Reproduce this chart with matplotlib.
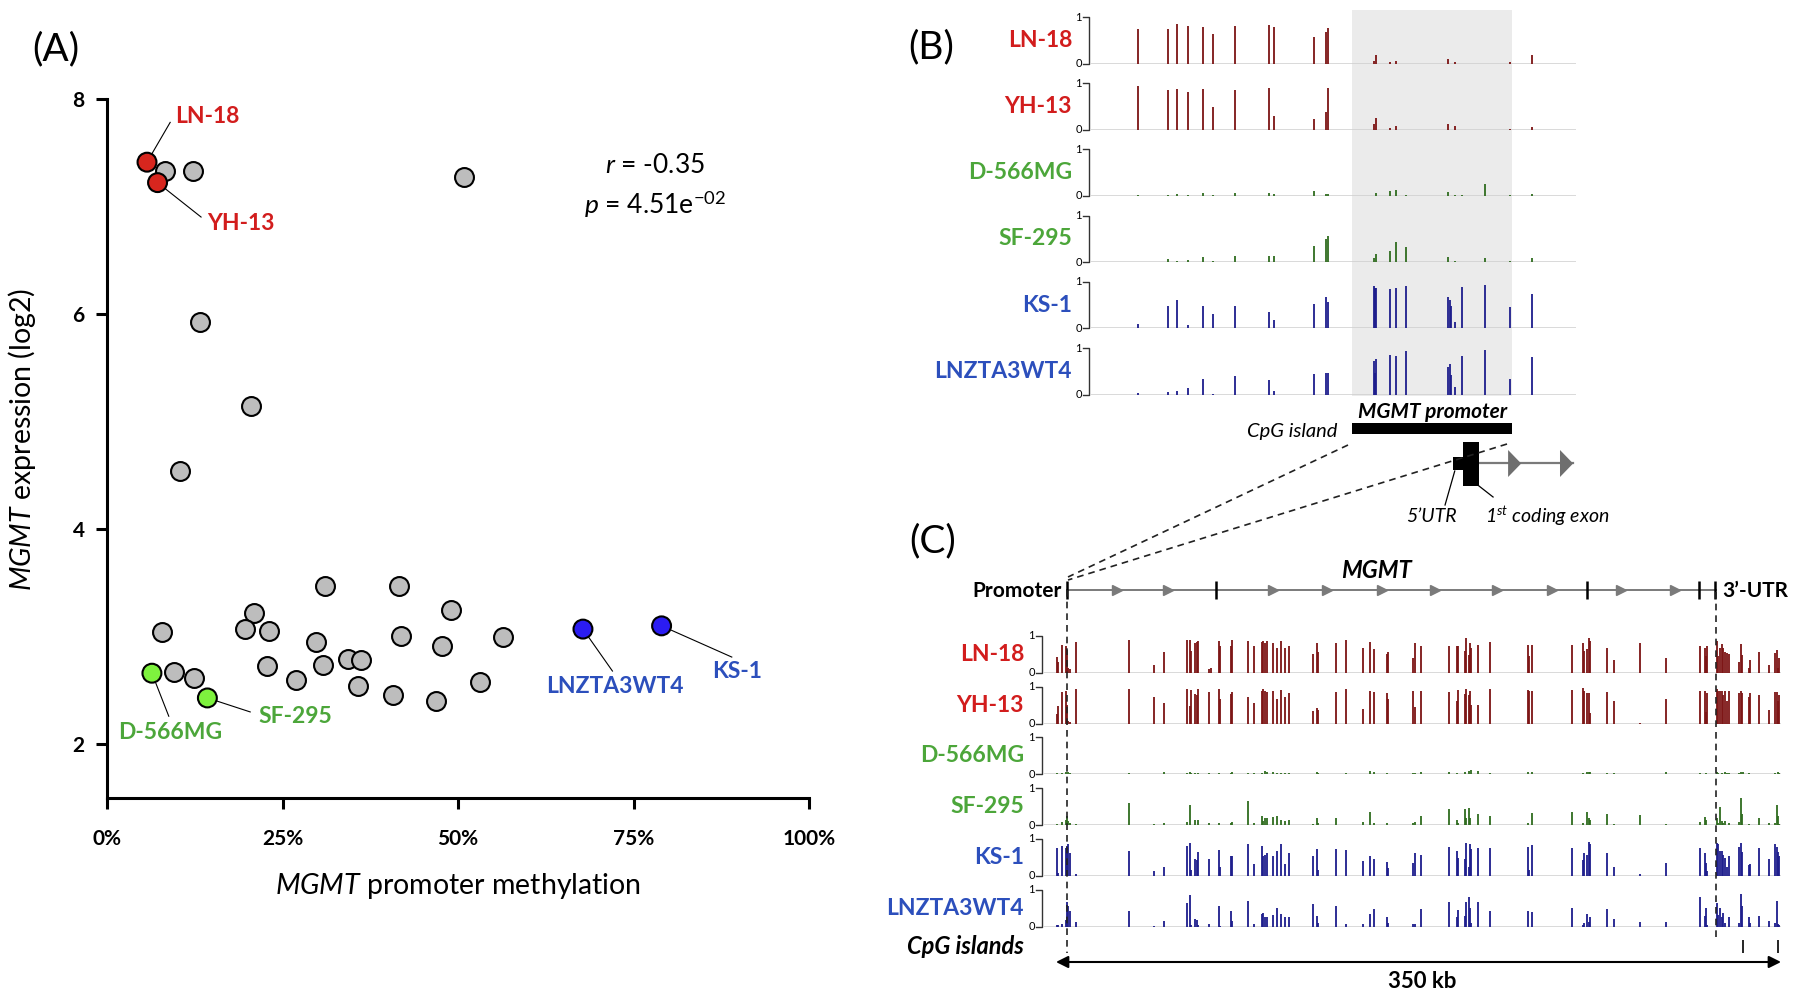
# -*- coding: utf-8 -*-
"""
MGMT: (A) expression vs promoter methylation, (B) promoter CpG tracks, (C) whole-gene CpG tracks
"""
import matplotlib
matplotlib.use('Agg')
import matplotlib.pyplot as plt
from matplotlib.patches import Rectangle, Polygon

plt.rcParams['font.family'] = ['Lato', 'DejaVu Sans']
plt.rcParams['mathtext.fontset'] = 'custom'
plt.rcParams['mathtext.rm'] = 'Lato'
plt.rcParams['mathtext.it'] = 'Lato:italic'
plt.rcParams['mathtext.bf'] = 'Lato:bold'

W, H = 1800, 998

# ── (A) 数据 ──
gray_meth = [8.2, 12.3, 50.8, 13.3, 20.5, 10.4, 31.0, 41.6, 21.0, 49.0, 7.8, 19.6, 23.1, 29.8,
             41.9, 47.7, 56.4, 22.8, 30.7, 34.3, 36.2, 26.9, 35.7, 40.7, 46.9, 53.1, 9.6, 12.4]
gray_expr = [7.33, 7.33, 7.27, 5.92, 5.14, 4.54, 3.47, 3.47, 3.22, 3.25, 3.04, 3.07, 3.05, 2.95,
             3.01, 2.91, 3.00, 2.73, 2.74, 2.79, 2.78, 2.60, 2.54, 2.46, 2.40, 2.58, 2.67, 2.62]

lines = ['LN-18', 'YH-13', 'D-566MG', 'SF-295', 'KS-1', 'LNZTA3WT4']
line_meth = [5.7, 7.2, 6.4, 14.3, 79.0, 67.8]
line_expr = [7.41, 7.22, 2.66, 2.43, 3.10, 3.07]

r_val = -0.35
p_txt = '4.51e'
p_exp = '-02'

# ── (B) 启动子区 CpG 甲基化 (窗口内相对位置 0-1000) ──
b_pos = [96.7, 158.3, 177.3, 201.0, 230.3, 252.1, 296.7, 367.8, 377.3, 460.7, 485.3, 489.1, 583.9,
         585.8, 588.6, 616.1, 628.4, 649.3, 736.5, 739.3, 742.2, 749.8, 765.9, 812.3, 864.5, 910.0]
b_ln18 = [0.75, 0.74, 0.84, 0.80, 0.79, 0.63, 0.80, 0.82, 0.79, 0.56, 0.68, 0.77, 0.06, 0.00, 0.18,
          0.03, 0.05, 0.00, 0.09, 0.00, 0.00, 0.03, 0.00, 0.00, 0.03, 0.18]
b_yh13 = [0.94, 0.86, 0.87, 0.81, 0.87, 0.48, 0.86, 0.89, 0.29, 0.23, 0.38, 0.89, 0.12, 0.00, 0.26,
          0.04, 0.09, 0.00, 0.13, 0.00, 0.00, 0.09, 0.00, 0.00, 0.02, 0.06]
b_d566 = [0.02, 0.03, 0.05, 0.03, 0.06, 0.02, 0.06, 0.06, 0.05, 0.10, 0.05, 0.05, 0.00, 0.00, 0.07,
          0.11, 0.12, 0.03, 0.08, 0.00, 0.00, 0.03, 0.01, 0.26, 0.03, 0.04]
b_sf295 = [0.01, 0.06, 0.02, 0.05, 0.11, 0.03, 0.14, 0.14, 0.14, 0.35, 0.50, 0.57, 0.08, 0.00, 0.17,
           0.24, 0.44, 0.32, 0.10, 0.00, 0.00, 0.03, 0.01, 0.08, 0.02, 0.08]
b_ks1 = [0.10, 0.47, 0.61, 0.08, 0.47, 0.31, 0.49, 0.35, 0.17, 0.52, 0.68, 0.56, 0.92, 0.87, 0.86,
         0.85, 0.87, 0.92, 0.68, 0.61, 0.47, 0.14, 0.89, 0.94, 0.45, 0.73]
b_lnz = [0.03, 0.05, 0.08, 0.14, 0.33, 0.02, 0.39, 0.31, 0.08, 0.44, 0.47, 0.47, 0.72, 0.47, 0.77,
         0.85, 0.82, 0.93, 0.59, 0.65, 0.42, 0.17, 0.82, 0.95, 0.33, 0.81]
b_island = [538, 869]          # CpG island / MGMT promoter
b_utr5 = [746, 767]
b_exon1 = [767, 800]
b_intron = [800, 994]
b_arrows = [874, 981]

# ── (C) 全基因 CpG 甲基化 (kb) ──
c_pos = [0.3, 1.0, 2.8, 4.8, 5.2, 6.0, 6.8, 9.7, 35.4, 47.5, 52.1, 63.1, 64.7, 65.2, 67.1, 67.9,
         68.6, 74.0, 74.7, 78.6, 79.1, 84.5, 85.2, 92.9, 95.5, 99.5, 100.1, 101.1, 102.1, 104.6,
         106.7, 108.5, 110.7, 112.3,
         123.9, 126.1, 126.5, 135.2, 139.9, 148.1, 151.7, 153.4, 159.6, 160.1, 172.2, 173.2, 176.2,
         189.7, 193.7, 194.2, 197.4, 197.8, 199.4, 199.9, 200.2, 203.6, 209.5, 227.7, 228.5, 229.8,
         249.3, 254.3, 254.9, 256.2, 257.2, 257.8, 266.1, 269.4, 281.9, 294.5, 310.9, 313.2, 313.8,
         314.3, 319.0, 319.7, 320.6, 321.4, 322.1, 323.0, 323.8, 324.8, 329.7, 330.5, 331.3, 331.8,
         334.6, 335.0, 339.2, 344.4, 347.0, 347.9, 348.7, 349.2]
c_ln18 = [0.42, 0.28, 0.74, 0.71, 0.62, 0.12, 0.10, 0.83, 0.89, 0.21, 0.55, 0.89, 0.89, 0.59, 0.80,
          0.83, 0.86, 0.10, 0.12, 0.86, 0.73, 0.71, 0.89, 0.87, 0.73, 0.83, 0.85, 0.80, 0.85, 0.80,
          0.66, 0.86, 0.66, 0.71,
          0.50, 0.80, 0.57, 0.80, 0.89, 0.68, 0.82, 0.65, 0.50, 0.57, 0.39, 0.80, 0.73, 0.73, 0.71,
          0.73, 0.59, 0.94, 0.48, 0.80, 0.68, 0.75, 0.82, 0.75, 0.44, 0.75,
          0.74, 0.80, 0.59, 0.65, 0.94, 0.86, 0.68, 0.35, 0.80, 0.39, 0.71, 0.66, 0.44, 0.73, 0.87,
          0.44, 0.66, 0.77, 0.68, 0.55, 0.53, 0.50, 0.28, 0.77, 0.48, 0.00, 0.14, 0.35, 0.55, 0.21,
          0.53, 0.62, 0.12, 0.39]
c_yh13 = [0.25, 0.46, 0.85, 0.87, 0.51, 0.07, 0.05, 0.92, 0.92, 0.72, 0.55, 0.92, 0.46, 0.90, 0.80,
          0.78, 0.92, 0.85, 0.00, 0.92, 0.65, 0.80, 0.85, 0.72, 0.55, 0.89, 0.92, 0.87, 0.85, 0.89,
          0.65, 0.90, 0.71, 0.83,
          0.35, 0.42, 0.37, 0.85, 0.94, 0.39, 0.87, 0.85, 0.83, 0.65, 0.89, 0.44, 0.87, 0.85, 0.60,
          0.90, 0.80, 0.92, 0.78, 0.87, 0.51, 0.51, 0.94, 0.90, 0.87, 0.87,
          0.90, 0.95, 0.87, 0.83, 0.83, 0.28, 0.85, 0.60, 0.01, 0.65, 0.87, 0.87, 0.31, 0.83, 0.92,
          0.89, 0.89, 0.89, 0.78, 0.87, 0.60, 0.87, 0.83, 0.87, 0.83, 0.00, 0.71, 0.83, 0.78, 0.37,
          0.85, 0.85, 0.60, 0.78]
c_d566 = [0.04, 0.02, 0.03, 0.06, 0.00, 0.05, 0.03, 0.01, 0.03, 0.02, 0.05, 0.03, 0.06, 0.03, 0.04,
          0.00, 0.04, 0.04, 0.00, 0.03, 0.00, 0.04, 0.05, 0.04, 0.03, 0.04, 0.00, 0.10, 0.07, 0.05,
          0.04, 0.04, 0.04, 0.03,
          0.02, 0.05, 0.03, 0.02, 0.04, 0.02, 0.10, 0.06, 0.04, 0.00, 0.04, 0.03, 0.06, 0.05, 0.03,
          0.00, 0.06, 0.00, 0.10, 0.00, 0.12, 0.08, 0.03, 0.05, 0.00, 0.05,
          0.02, 0.03, 0.00, 0.05, 0.07, 0.07, 0.03, 0.03, 0.02, 0.05, 0.03, 0.00, 0.03, 0.00, 0.05,
          0.04, 0.00, 0.04, 0.00, 0.05, 0.04, 0.03, 0.04, 0.06, 0.00, 0.05, 0.03, 0.00, 0.02, 0.02,
          0.04, 0.00, 0.06, 0.03]
c_sf295 = [0.03, 0.00, 0.08, 0.15, 0.25, 0.12, 0.05, 0.03, 0.61, 0.02, 0.06, 0.08, 0.55, 0.00, 0.15,
           0.00, 0.15, 0.07, 0.00, 0.07, 0.00, 0.06, 0.08, 0.64, 0.05, 0.25, 0.12, 0.18, 0.20, 0.23,
           0.25, 0.15, 0.10, 0.15,
           0.02, 0.18, 0.06, 0.18, 0.01, 0.08, 0.35, 0.05, 0.06, 0.00, 0.06, 0.08, 0.25, 0.43, 0.15,
           0.07, 0.43, 0.18, 0.45, 0.20, 0.00, 0.29, 0.25, 0.06, 0.00, 0.32,
           0.36, 0.05, 0.00, 0.36, 0.20, 0.14, 0.29, 0.03, 0.27, 0.04, 0.08, 0.23, 0.13, 0.00, 0.18,
           0.06, 0.50, 0.10, 0.07, 0.10, 0.00, 0.07, 0.08, 0.73, 0.29, 0.00, 0.02, 0.00, 0.18, 0.05,
           0.06, 0.55, 0.25, 0.04]
c_ks1 = [0.75, 0.07, 0.82, 0.75, 0.80, 0.85, 0.62, 0.05, 0.66, 0.12, 0.25, 0.80, 0.89, 0.16, 0.45,
         0.44, 0.64, 0.45, 0.00, 0.69, 0.25, 0.53, 0.55, 0.85, 0.32, 0.80, 0.53, 0.57, 0.62, 0.55,
         0.68, 0.85, 0.33, 0.62,
         0.55, 0.73, 0.16, 0.73, 0.71, 0.41, 0.53, 0.45, 0.37, 0.21, 0.35, 0.62, 0.57, 0.77, 0.66,
         0.48, 0.46, 0.89, 0.23, 0.85, 0.74, 0.75, 0.75, 0.77, 0.16, 0.83,
         0.75, 0.44, 0.62, 0.57, 0.92, 0.87, 0.62, 0.25, 0.05, 0.35, 0.75, 0.62, 0.35, 0.12, 0.89,
         0.85, 0.66, 0.68, 0.57, 0.48, 0.25, 0.53, 0.77, 0.89, 0.64, 0.00, 0.30, 0.32, 0.75, 0.46,
         0.86, 0.77, 0.64, 0.53]
c_lnz = [0.05, 0.05, 0.06, 0.18, 0.68, 0.56, 0.43, 0.14, 0.43, 0.03, 0.15, 0.65, 0.86, 0.05, 0.20,
         0.18, 0.05, 0.08, 0.00, 0.55, 0.02, 0.43, 0.15, 0.70, 0.06, 0.34, 0.36, 0.27, 0.27, 0.32,
         0.50, 0.34, 0.25, 0.25,
         0.61, 0.30, 0.11, 0.57, 0.06, 0.07, 0.35, 0.47, 0.25, 0.09, 0.07, 0.06, 0.47, 0.66, 0.25,
         0.44, 0.30, 0.66, 0.79, 0.50, 0.09, 0.66, 0.43, 0.43, 0.00, 0.39,
         0.50, 0.05, 0.11, 0.34, 0.14, 0.25, 0.47, 0.20, 0.12, 0.12, 0.79, 0.30, 0.50, 0.05, 0.64,
         0.32, 0.50, 0.27, 0.36, 0.09, 0.00, 0.25, 0.11, 0.88, 0.56, 0.00, 0.25, 0.11, 0.29, 0.15,
         0.09, 0.70, 0.06, 0.05]
c_gene = [5.3, 318.6]
c_exons = [5.3, 77.2, 256.3, 310.4, 318.1]
c_strand = [29.4, 54.1, 104.8, 130.8, 157.4, 183.0, 212.9, 239.4, 272.8, 298.8]
c_islands = [331.7, 348.6]
c_span = 350

b_vals = [b_ln18, b_yh13, b_d566, b_sf295, b_ks1, b_lnz]
c_vals = [c_ln18, c_yh13, c_d566, c_sf295, c_ks1, c_lnz]

# 配色
fill_col = ['#d7261e', '#d7261e', '#7ef23e', '#7ef23e', '#2b1cf2', '#2b1cf2']
text_col = ['#d21d1d', '#d21d1d', '#4ca63a', '#4ca63a', '#2c4fbc', '#2c4fbc']
bar_col = ['#7c1414', '#7c1414', '#2f6c1f', '#2f6c1f', '#1d1d8c', '#1d1d8c']
GRAY_LINE = '#cfcfcf'


def frac(x0, y0, x1, y1):
    return [x0 / W, 1 - y1 / H, (x1 - x0) / W, (y1 - y0) / H]


fig = plt.figure(figsize=(18, 9.98), dpi=100)

# ── (B) 背景: 启动子阴影 + 基因结构 ──
axb = fig.add_axes(frac(1091, 0, 1576, 540))
axb.set_xlim(0, 1000)
axb.set_ylim(540, 0)
axb.axis('off')
axb.add_patch(Rectangle((b_island[0], 10), b_island[1] - b_island[0], 386,
                        facecolor='#ebebeb', edgecolor='none', zorder=0))
axb.add_patch(Rectangle((b_island[0], 423), b_island[1] - b_island[0], 11,
                        facecolor='black', edgecolor='none'))
axb.text(sum(b_island) / 2, 412, 'MGMT promoter', ha='center', va='center', fontsize=15,
         fontweight='bold', fontstyle='italic')
axb.text(b_island[0] - 30, 432, 'CpG island', ha='right', va='center', fontsize=14.5,
         fontstyle='italic')
axb.plot(b_intron, [463, 463], color='#7a7a7a', lw=1.6, zorder=1)
for xa in b_arrows:
    axb.add_patch(Polygon([[xa - 14, 450], [xa - 14, 477], [xa + 13, 463.5]], closed=True,
                          facecolor='#6f6f6f', edgecolor='none', zorder=2))
axb.add_patch(Rectangle((b_utr5[0], 457), b_utr5[1] - b_utr5[0], 13, facecolor='black', zorder=3))
axb.add_patch(Rectangle((b_exon1[0], 442), b_exon1[1] - b_exon1[0], 44, facecolor='black', zorder=3))
axb.plot([730, 750], [505, 471], color='black', lw=0.9)
axb.plot([829, 800], [497, 486], color='black', lw=0.9)
axb.text(703, 516, '5\u2019UTR', ha='center', va='center', fontsize=14, fontstyle='italic')
axb.text(813, 516, '1$^{st}$ coding exon', ha='left', va='center', fontsize=14, fontstyle='italic')


def track(x0, x1, ytop, ybase, xlim, pos, vals, bcol, name, ncol, gap):
    ax = fig.add_axes(frac(x0, ytop, x1, ybase))
    ax.set_xlim(*xlim)
    ax.set_ylim(0, 1)
    ax.axis('off')
    ax.axhline(0, color=GRAY_LINE, lw=1.8, zorder=1)
    ax.vlines(pos, 0, vals, color=bcol, lw=1.3, zorder=2)
    w = x1 - x0
    bx, tk = -2.5 / w, -8.0 / w
    ax.plot([tk, bx, bx, tk], [1, 1, 0, 0], transform=ax.transAxes, color='#333333',
            lw=1.0, clip_on=False)
    ax.text(tk - 1 / w, 1.0, '1', transform=ax.transAxes, ha='right', va='center', fontsize=8)
    ax.text(tk - 1 / w, 0.0, '0', transform=ax.transAxes, ha='right', va='center', fontsize=8)
    ax.text(-gap / w, 0.5, name, transform=ax.transAxes, ha='right', va='center',
            fontsize=16.5, fontweight='bold', color=ncol)
    return ax


# ── (B) tracks ──
for i, name in enumerate(lines):
    top = 17 + 66.2 * i
    track(1091, 1576, top, top + 46.5, (0, 1000), b_pos, b_vals[i], bar_col[i], name,
          text_col[i], 19)

# ── (C) tracks ──
c_x0, c_x1, c_kb0 = 1044, 1781, 1056
c_xlim = (-(c_kb0 - c_x0) * c_span / (c_x1 - c_kb0), c_span)
for i, name in enumerate(lines):
    base = 672.7 + 50.8 * i
    track(c_x0, c_x1, base - 37, base, c_xlim, c_pos, c_vals[i], bar_col[i], name,
          text_col[i], 20)

# ── (C) 基因结构 + 标尺 ──
axc = fig.add_axes(frac(c_x0, 555, c_x1, 998))
axc.set_xlim(*c_xlim)
axc.set_ylim(998, 555)
axc.axis('off')
axc.plot(c_gene, [590, 590], color='#7a7a7a', lw=1.4)
axc.plot(c_strand, [590] * len(c_strand), ls='none', marker='>', ms=6.5, color='#7a7a7a')
axc.vlines(c_exons, 581, 599, color='black', lw=1.8)
axc.vlines([c_gene[0]], 590, 953, color='#222222', lw=1.2, linestyles=(0, (4, 3)))
axc.vlines([c_gene[1]], 592, 938, color='#222222', lw=1.2, linestyles=(0, (4, 3)))
axc.vlines(c_islands, 940, 953, color='black', lw=1.2)
axc.annotate('', xy=(c_span, 962), xytext=(0, 962),
             arrowprops=dict(arrowstyle='<|-|>', color='black', lw=1.5, mutation_scale=18,
                             shrinkA=0, shrinkB=0))
axc.text(177, 982, '%d kb' % c_span, ha='center', va='center', fontsize=16, fontweight='bold')
axc.text(154.5, 570, 'MGMT', ha='center', va='center', fontsize=17, fontweight='bold',
         fontstyle='italic')
axc.text(c_gene[0] - 2.4, 591, 'Promoter', ha='right', va='center', fontsize=15, fontweight='bold')
axc.text(c_gene[1] + 2.9, 591, '3\u2019-UTR', ha='left', va='center', fontsize=15,
         fontweight='bold')

# ── (A) scatter ──
ax = fig.add_axes(frac(107, 98.7, 809, 798))
ax.set_xlim(0, 100)
ax.set_ylim(1.5, 8)
ax.spines[['top', 'right']].set_visible(False)
ax.spines[['left', 'bottom']].set_linewidth(2.2)
ax.tick_params(width=2.2, length=8, labelsize=15)
ax.tick_params(axis='x', pad=14)
ax.tick_params(axis='y', pad=8)
ax.set_xticks([0, 25, 50, 75, 100])
ax.set_xticklabels(['0%', '25%', '50%', '75%', '100%'])
ax.set_yticks([2, 4, 6, 8])
for t in ax.get_xticklabels() + ax.get_yticklabels():
    t.set_fontweight('bold')

ax.scatter(gray_meth, gray_expr, s=185, c='#bdbdbd', edgecolors='black', linewidths=1.5,
           zorder=3)
ax.scatter(line_meth, line_expr, s=185, c=fill_col, edgecolors='black', linewidths=1.5,
           zorder=4)

# 标注位置: 引线终点, 文字位置, 对齐
lab_pos = {
    'LN-18': ((9.0, 7.78), (9.7, 7.83), 'left'),
    'YH-13': ((13.4, 6.90), (14.2, 6.84), 'left'),
    'D-566MG': ((8.8, 2.26), (9.0, 2.11), 'center'),
    'SF-295': ((20.4, 2.30), (21.6, 2.26), 'left'),
    'KS-1': ((89.0, 2.81), (89.7, 2.68), 'center'),
    'LNZTA3WT4': ((72.0, 2.68), (72.4, 2.54), 'center'),
}
for i, name in enumerate(lines):
    (lx, ly), (tx, ty), ha = lab_pos[name]
    ax.plot([line_meth[i], lx], [line_expr[i], ly], color='black', lw=0.8, zorder=2)
    ax.text(tx, ty, name, ha=ha, va='center', fontsize=16.5, fontweight='bold',
            color=text_col[i])

ax.text(78.1, 7.38, '$\\mathit{r}$ = %.2f' % r_val, ha='center', va='center', fontsize=19)
ax.text(78.1, 7.02, '$\\mathit{p}$ = %s$^{%s}$' % (p_txt, p_exp), ha='center', va='center',
        fontsize=19)
ax.set_xlabel('$\\mathit{MGMT}$ promoter methylation', fontsize=20.5, labelpad=16)

# ── 前景: 面板标签 / 连接虚线 ──
cv = fig.add_axes([0, 0, 1, 1])
cv.set_xlim(0, W)
cv.set_ylim(H, 0)
cv.axis('off')
cv.text(22, 439, '$\\mathit{MGMT}$ expression (log2)', rotation=90, ha='center', va='center',
        fontsize=20.5)
cv.text(56, 49, '(A)', ha='center', va='center', fontsize=28)
cv.text(931, 47, '(B)', ha='center', va='center', fontsize=28)
cv.text(933, 541, '(C)', ha='center', va='center', fontsize=28)
cv.text(1024, 947, 'CpG islands', ha='right', va='center', fontsize=17, fontweight='bold',
        fontstyle='italic')
cv.plot([1348, 1068], [445, 577], color='#222222', lw=1.2, ls=(0, (4, 3)))
cv.plot([1507, 1068], [444, 580], color='#222222', lw=1.2, ls=(0, (4, 3)))

fig.savefig('out.png', dpi=100, facecolor='white')
